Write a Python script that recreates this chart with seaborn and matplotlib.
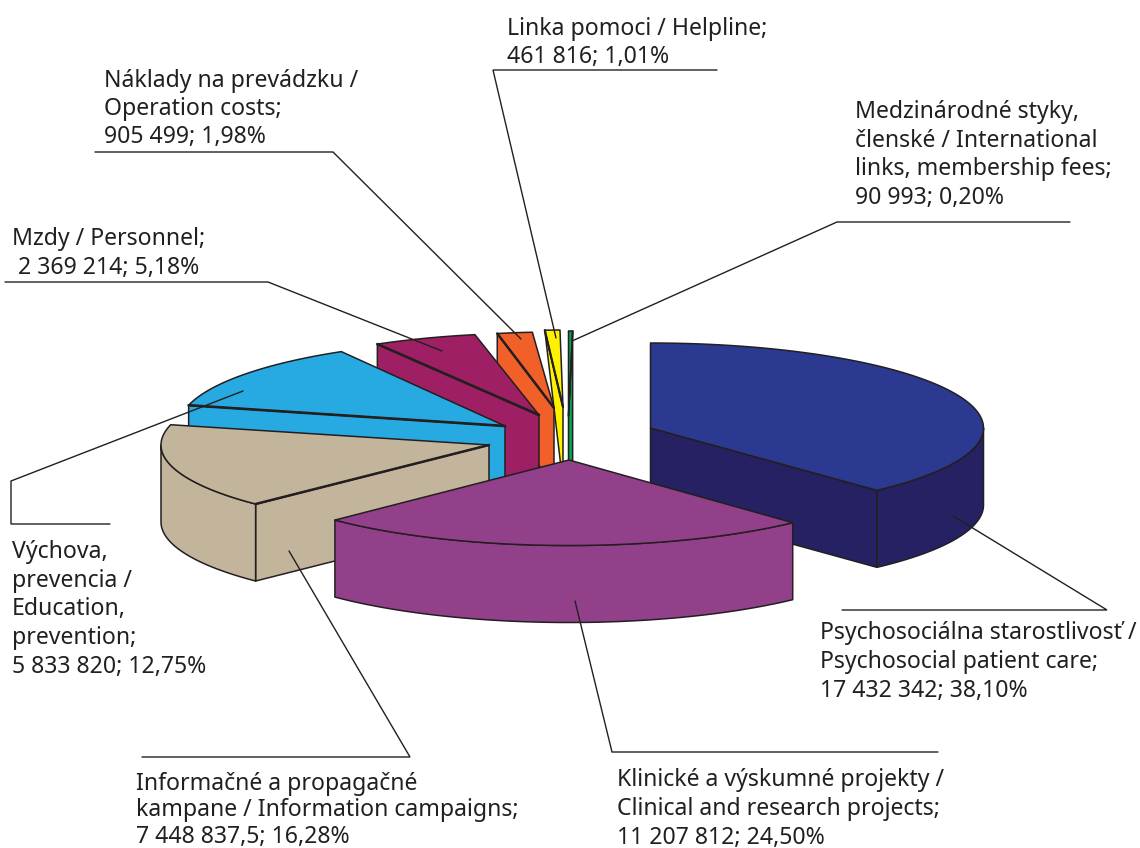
import numpy as np
import matplotlib
matplotlib.use('Agg')
import matplotlib.pyplot as plt
import seaborn as sns

# data
labels = [
    ['Psychosociálna starostlivosť /', 'Psychosocial patient care;'],
    ['Klinické a výskumné projekty /', 'Clinical and research projects;'],
    ['Informačné a propagačné', 'kampane / Information campaigns;'],
    ['Výchova,', 'prevencia /', 'Education,', 'prevention;'],
    ['Mzdy / Personnel;'],
    ['Náklady na prevádzku /', 'Operation costs;'],
    ['Linka pomoci / Helpline;'],
    ['Medzinárodné styky,', 'členské / International', 'links, membership fees;'],
]
amounts = ['17 432 342', '11 207 812', '7 448 837,5', '5 833 820',
           ' 2 369 214', '905 499', '461 816', '90 993']
shares = [38.10, 24.50, 16.28, 12.75, 5.18, 1.98, 1.01, 0.20]

top_colors = ['#2b3990', '#92408a', '#c2b59b', '#27aae1',
              '#9e1f63', '#f26029', '#fff200', '#00a651']
side_colors = ['#252163', '#92408a', '#c2b59b', '#27aae1',
               '#9e1f63', '#f26029', '#fff200', '#00a651']

# where every exploded slice sits (pixels), rx < 0 flips the thin green one
apex_x = [650.5, 569, 489, 505, 539, 554, 563, 568.5]
apex_y = [428, 460, 445, 426, 415, 408, 407, 416]
radius_x = [333, 329, 328, 326, 322, 285, 240, -330]
radius_y = [85, 85.5, 84, 86, 82, 76, 77, 85]
rim_depth = [78, 77, 77, 77, 77, 77, 0, 130]
cut_width = [1.2, 1.2, 1.8, 1.9, 1.9, 1.8, 1.6, 1.2]
depth = 77
edge = '#231f20'

# label placement: x and baseline of the first line, line pitch
label_x = [820, 617, 136, 12, 12, 104, 507, 855]
label_y = [639, 786, 790, 558, 245, 87, 35, 118]
line_pitch = [29, 29, 26.5, 28.7, 29, 28, 28, 28.7]

leaders = [
    ([842, 1107, 953], [610, 610, 516]),
    ([938, 612, 575], [752, 752, 601]),
    ([142, 410, 289], [757, 757, 551]),
    ([110, 11, 11, 243], [524, 524, 481, 391]),
    ([5, 268, 442], [282, 282, 351]),
    ([95, 333, 521], [152, 152, 339]),
    ([717, 493, 556], [70, 70, 338]),
    ([1070, 837, 572], [222, 222, 341]),
]

sns.set_theme(style='white')
plt.rcParams['font.family'] = ['Noto Sans', 'DejaVu Sans']

fig, ax = plt.subplots(figsize=(11.4, 8.48), dpi=100)
fig.subplots_adjust(0, 0, 1, 1)
ax.set_xlim(0, 1140)
ax.set_ylim(848, 0)
ax.axis('off')

stops = np.cumsum([0] + shares) * 3.6
z = 1


def rim(i, deg):
    t = np.radians(deg)
    return apex_x[i] + radius_x[i] * np.sin(t), apex_y[i] - radius_y[i] * np.cos(t)


def face(xs, ys, color):
    global z
    ax.fill(xs, ys, facecolor=color, edgecolor=edge, linewidth=1.1,
            joinstyle='round', zorder=z)
    z += 1


def draw_slice(i):
    global z
    a, b = stops[i], stops[i + 1]
    ax_, ay_ = apex_x[i], apex_y[i]

    # cut faces that look towards the viewer
    if np.sin(np.radians(a)) < -1e-6:
        x0, y0 = rim(i, a)
        face([x0, ax_, ax_, x0], [y0, ay_, ay_ + depth, y0 + rim_depth[i]], side_colors[i])
    if np.sin(np.radians(b)) > 1e-6:
        x0, y0 = rim(i, b)
        face([ax_, x0, x0, ax_], [ay_, y0, y0 + depth, ay_ + depth], side_colors[i])

    # outer wall
    lo, hi = max(a, 90), min(b, 270)
    if hi > lo:
        xs, ys = rim(i, np.linspace(lo, hi, 60))
        face(np.r_[xs, xs[::-1]], np.r_[ys, ys[::-1] + depth], side_colors[i])

    # top face
    xs, ys = rim(i, np.linspace(a, b, 80))
    face(np.r_[ax_, xs], np.r_[ay_, ys], top_colors[i])

    # heavier line along the cut
    if np.sin(np.radians(a)) < -1e-6:
        ax.plot([xs[0], ax_], [ys[0], ay_], color=edge, lw=cut_width[i],
                solid_capstyle='round', zorder=z)
        z += 1


# back to front, the blue and purple slices come last
for i in [7, 6, 5, 4, 3, 2, 0, 1]:
    draw_slice(i)

for xs, ys in leaders:
    ax.plot(xs, ys, color=edge, lw=1.0, solid_joinstyle='miter', zorder=z)

for i, lines in enumerate(labels):
    last = f'{amounts[i]}; {shares[i]:.2f}%'.replace('.', ',')
    for n, line in enumerate(lines + [last]):
        ax.text(label_x[i], label_y[i] + n * line_pitch[i], line, fontsize=16.6,
                color=edge, ha='left', va='baseline', clip_on=False, zorder=z + 1)

fig.savefig('out.png', dpi=100)
